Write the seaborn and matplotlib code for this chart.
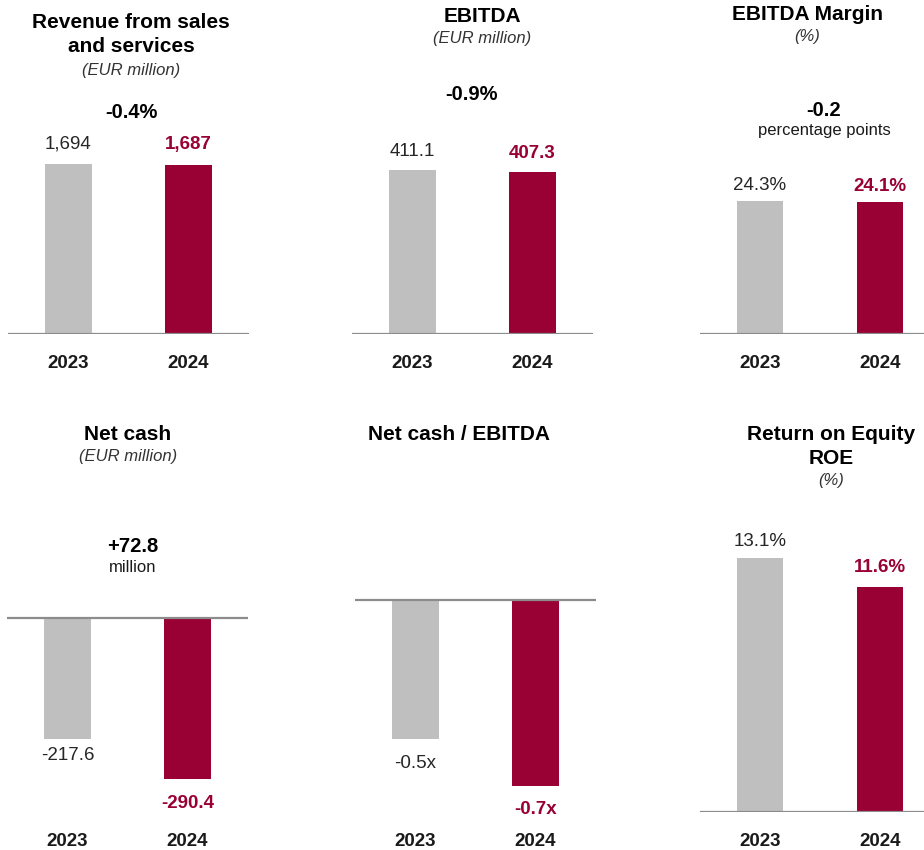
import matplotlib
matplotlib.use("Agg")
import matplotlib.pyplot as plt
import seaborn as sns
import pandas as pd

# ---- data -------------------------------------------------------------
years = ["2023", "2024"]
revenue = [1694, 1687]
ebitda = [411.1, 407.3]
ebitda_margin = [24.3, 24.1]
net_cash = [-217.6, -290.4]
net_cash_to_ebitda = [-0.53, -0.71]
roe = [13.1, 11.6]

revenue_change = "-0.4%"
ebitda_change = "-0.9%"
margin_change = "-0.2"
net_cash_change = "+72.8"

# ---- style ------------------------------------------------------------
sns.set_style("white")
plt.rcParams["font.family"] = ["Liberation Sans", "DejaVu Sans"]

GREY = "#BFBFBF"
RED = "#990033"
DARK = "#262626"
LINE = "#8C8C8C"

W, H = 924, 850
fig = plt.figure(figsize=(W / 100, H / 100), dpi=100)
fig.patch.set_facecolor("white")


def fx(x):
    return x / W


def fy(y):
    return 1 - y / H


# each panel: values, label format, first-bar centre (px), baseline (px),
# px per unit, axes top/bottom (px), label offsets (px)
panels = [
    dict(values=revenue, fmt=lambda v: f"{v:,.0f}", c0=68.5, base=334,
         scale=170 / 1694, top=120, bottom=334, offs=[20, 20]),
    dict(values=ebitda, fmt=lambda v: f"{v:.1f}", c0=412.5, base=334,
         scale=164 / 411.1, top=120, bottom=334, offs=[18.5, 18.5]),
    dict(values=ebitda_margin, fmt=lambda v: f"{v:.1f}%", c0=760, base=334,
         scale=133 / 24.3, top=120, bottom=334, offs=[16, 16]),
    dict(values=net_cash, fmt=lambda v: f"{v:.1f}", c0=67.5, base=618,
         scale=0.556, top=560, bottom=812, offs=[17, 24]),
    dict(values=net_cash_to_ebitda, fmt=lambda v: f"{v:.1f}x", c0=415.5,
         base=600, scale=262, top=560, bottom=812, offs=[24.5, 23]),
    dict(values=roe, fmt=lambda v: f"{v:.1f}%", c0=760, base=812,
         scale=19.4, top=500, bottom=812, offs=[16, 19]),
]

SPAN = 241  # width of the baseline in px
for p in panels:
    left = p["c0"] - 60.5
    ax = fig.add_axes([fx(left), fy(p["bottom"]), SPAN / W,
                       (p["bottom"] - p["top"]) / H])
    df = pd.DataFrame({"year": years, "value": p["values"]})
    sns.barplot(data=df, x="year", y="value", hue="year",
                palette=[GREY, RED], width=0.39, saturation=1,
                legend=False, ax=ax, edgecolor="none")
    ax.set_xlim(-0.504, -0.504 + SPAN / 120)
    ax.set_ylim((p["base"] - p["bottom"]) / p["scale"],
                (p["base"] - p["top"]) / p["scale"])
    ax.axhline(0, color=LINE, lw=1.6, zorder=3)
    ax.set_yticks([])
    ax.set_xlabel("")
    ax.set_ylabel("")
    ax.tick_params(axis="x", length=0, pad=15, labelsize=13.5,
                   labelcolor="#1a1a1a")
    for t in ax.get_xticklabels():
        t.set_fontweight("bold")
    sns.despine(ax=ax, left=True, bottom=True)
    ax.set_facecolor("none")

    for i, v in enumerate(p["values"]):
        d = 1 if v >= 0 else -1
        latest = i == len(p["values"]) - 1
        ax.annotate(p["fmt"](v), xy=(i, v), xytext=(0, d * p["offs"][i]),
                    textcoords="offset pixels", ha="center", va="center",
                    fontsize=13.5, color=RED if latest else DARK,
                    fontweight="bold" if latest else "normal",
                    annotation_clip=False)


def title(x, y, s):
    fig.text(fx(x), fy(y), s, ha="center", va="center", fontsize=15,
             fontweight="bold", color="black")


def subtitle(x, y, s):
    fig.text(fx(x), fy(y), s, ha="center", va="center", fontsize=12,
             fontstyle="italic", color="#333333")


def change(x, y, s):
    fig.text(fx(x), fy(y), s, ha="center", va="center", fontsize=14.5,
             fontweight="bold", color="black")


def note(x, y, s):
    fig.text(fx(x), fy(y), s, ha="center", va="center", fontsize=12,
             color="#1a1a1a")


# top row headings
title(131, 22, "Revenue from sales")
title(131, 47, "and services")
subtitle(131, 70, "(EUR million)")
change(131, 113, revenue_change)

title(482, 16, "EBITDA")
subtitle(482, 38, "(EUR million)")
change(472, 95, ebitda_change)

title(807, 15, "EBITDA Margin")
subtitle(807, 37, "(%)")
change(824, 110, margin_change)
note(824, 130, "percentage points")

# bottom row headings
title(128, 434, "Net cash")
subtitle(128, 456, "(EUR million)")
change(133, 547, net_cash_change)
note(133, 568, "million")

title(459, 435, "Net cash / EBITDA")

title(831, 435, "Return on Equity")
title(831, 458, "ROE")
subtitle(831, 480, "(%)")

fig.savefig("out.png", dpi=100)
